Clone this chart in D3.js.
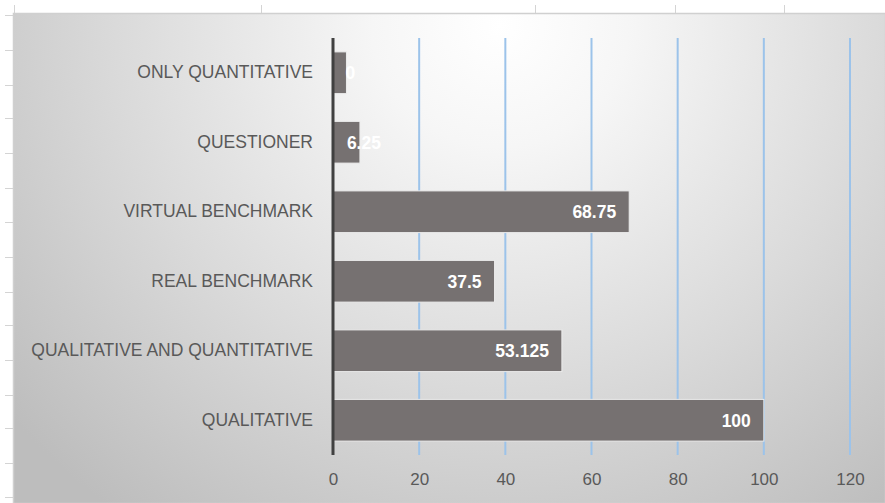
<!DOCTYPE html>
<html><head><meta charset="utf-8">
<script src="https://cdn.jsdelivr.net/npm/d3@7"></script>
<style>html,body{margin:0;padding:0;background:#fff;}svg{display:block;}</style>
</head><body>
<svg id="c" width="885" height="503"></svg>
<script>
const categories = ["ONLY QUANTITATIVE","QUESTIONER","VIRTUAL BENCHMARK","REAL BENCHMARK","QUALITATIVE AND QUANTITATIVE","QUALITATIVE"];
const values = [3.125, 6.25, 68.75, 37.5, 53.125, 100];
const valueLabels = ["0", "6.25", "68.75", "37.5", "53.125", "100"];
const xTicks = [0, 20, 40, 60, 80, 100, 120];

const svg = d3.select("#c");
const W = 885, H = 503;
const font = "'Liberation Sans', Arial, sans-serif";

// sheet decorations
const deco = svg.append("g").attr("stroke", "#d4d4d4").attr("stroke-width", 1);
[14, 261, 535, 675, 784].forEach(x => deco.append("line").attr("x1", x + 0.5).attr("x2", x + 0.5).attr("y1", 5).attr("y2", 13));
[15, 50, 85, 118, 153, 188, 222, 257, 292, 325, 360, 395, 428, 463, 497].forEach(y => deco.append("line").attr("x1", 5).attr("x2", 13).attr("y1", y + 0.5).attr("y2", y + 0.5));

// background gradient
const defs = svg.append("defs");
const rg = defs.append("radialGradient").attr("id", "bg").attr("gradientUnits", "userSpaceOnUse")
  .attr("cx", 500).attr("cy", 25).attr("r", 640)
  .attr("gradientTransform", "translate(500,25) scale(1,0.95) translate(-500,-25)");
rg.append("stop").attr("offset", "0").attr("stop-color", "#ffffff");
rg.append("stop").attr("offset", "0.2").attr("stop-color", "#f6f6f6");
rg.append("stop").attr("offset", "0.6").attr("stop-color", "#dadada");
rg.append("stop").attr("offset", "1").attr("stop-color", "#bdbdbd");
svg.append("rect").attr("x", 13.5).attr("y", 13.5).attr("width", W - 13).attr("height", H - 13)
  .attr("fill", "url(#bg)").attr("stroke", "#d0d0d0").attr("stroke-width", 1.5);

const x = d3.scaleLinear().domain([0, 120]).range([333, 850]);
const y = d3.scaleBand().domain(categories).range([38, 455]).paddingInner(0.4).paddingOuter(0.2);

// gridlines
svg.append("g").selectAll("line").data(xTicks.filter(t => t > 0)).join("line")
  .attr("x1", d => x(d)).attr("x2", d => x(d)).attr("y1", 38).attr("y2", 455)
  .attr("stroke", "#9cc3ea").attr("stroke-width", 2);

// x axis labels
const xAxis = d3.axisBottom(x).tickValues(xTicks).tickSize(0).tickPadding(0);
const gx = svg.append("g").attr("transform", "translate(0,473)").call(xAxis);
gx.select(".domain").remove();
gx.selectAll("text").attr("font-family", font).attr("font-size", 17).attr("fill", "#595959").attr("dy", "0.71em");

// bars
svg.append("g").selectAll("rect").data(categories).join("rect")
  .attr("x", x(0)).attr("y", d => y(d))
  .attr("width", (d, i) => x(values[i]) - x(0)).attr("height", y.bandwidth())
  .attr("fill", "#767171").attr("stroke", "#ececec").attr("stroke-width", 1);

// y axis
const yAxis = d3.axisLeft(y).tickSize(0).tickPadding(20);
const gy = svg.append("g").attr("transform", `translate(${x(0)},0)`).call(yAxis);
gy.select(".domain").remove();
gy.selectAll("text").attr("font-family", font).attr("font-size", 17.5).attr("fill", "#595959");
svg.append("line").attr("x1", x(0)).attr("x2", x(0)).attr("y1", 38).attr("y2", 455)
  .attr("stroke", "#404040").attr("stroke-width", 3);

// value labels
const lbl = svg.append("g").selectAll("text").data(categories).join("text")
  .attr("y", d => y(d) + y.bandwidth() / 2).attr("dy", "0.36em")
  .attr("font-family", font).attr("font-size", 17.5).attr("font-weight", "bold").attr("fill", "#ffffff")
  .text((d, i) => valueLabels[i]);
lbl.each(function(d, i) {
  const w = this.getComputedTextLength();
  const end = x(values[i]);
  const bw = end - x(0);
  if (w + 18 <= bw) {
    d3.select(this).attr("text-anchor", "end").attr("x", end - 13);
  } else {
    let start = Math.max(x(0) + 3, end + 4 - w / 2);
    d3.select(this).attr("text-anchor", "start").attr("x", start);
  }
});
</script>
</body></html>
